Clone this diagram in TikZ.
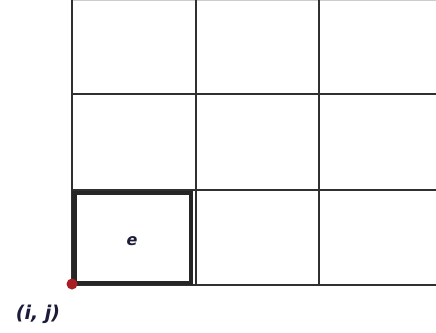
\documentclass[tikz,border=0pt]{standalone}
\usepackage{fontspec}
\setmainfont{DejaVu Sans}
\definecolor{gridc}{HTML}{303030}
\definecolor{dotc}{HTML}{A81E24}
\definecolor{txtc}{HTML}{1C1C3A}
\begin{document}
\begin{tikzpicture}[x=1pt,y=-1pt,
  gridline/.style={draw=gridc,line width=1.3pt},
  thickbox/.style={draw=black!85,line width=4.5pt},
  lbl/.style={font=\bfseries\itshape\fontsize{19}{22}\selectfont,text=txtc,inner sep=0pt}]
\useasboundingbox (0,0) rectangle (436,332);
\draw[gray!40,line width=1pt] (72,0.5) -- (436,0.5);
% grid
\foreach \x in {72,196,319} \draw[gridline] (\x,0) -- (\x,285);
\foreach \y in {94,190,285} \draw[gridline] (72,\y) -- (436,\y);
% highlighted cell
\draw[thickbox] (74.5,193) rectangle (191,283);
\node[lbl,font=\bfseries\itshape\fontsize{16}{18}\selectfont] (e) at (132,241) {e};
% origin
\fill[dotc] (72,284) circle (5.5pt);
\coordinate (o) at (72,284);
\node[lbl] (ij) at (38,314) {(i, j)};
\end{tikzpicture}
\end{document}
